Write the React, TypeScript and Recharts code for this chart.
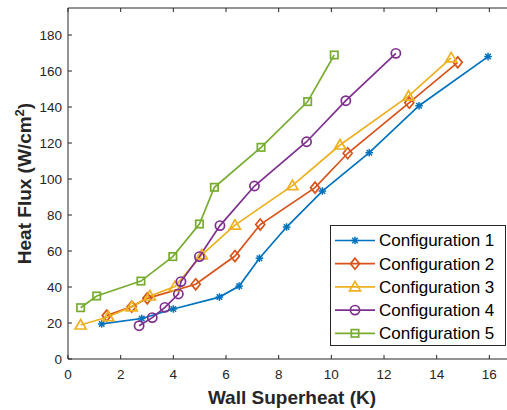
// Boiling curves: heat flux vs wall superheat for five configurations
import { LineChart, Line, XAxis, YAxis, Legend, Label } from 'recharts'

const FONT = '"Liberation Sans", Arial, Helvetica, sans-serif'
const INK = '#262626'

const xTicks = [0, 2, 4, 6, 8, 10, 12, 14, 16]
const yTicks = [0, 20, 40, 60, 80, 100, 120, 140, 160, 180]

const config1X = [1.28, 2.8, 4.0, 5.75, 6.5, 7.27, 8.3, 9.66, 11.44, 13.33, 15.95]
const config1Y = [19.5, 22.5, 27.8, 34.4, 40.5, 56, 73.3, 93.3, 114.6, 140.7, 168]

const config2X = [1.47, 2.42, 3.01, 4.85, 6.34, 7.3, 9.38, 10.62, 12.96, 14.8]
const config2Y = [24.1, 29.1, 33.7, 41.5, 57.2, 74.7, 95.2, 114.3, 142.4, 164.8]

const config3X = [0.48, 1.53, 2.42, 3.11, 4.06, 5.08, 6.34, 8.52, 10.33, 12.93, 14.55]
const config3Y = [18.9, 23.5, 29, 35, 40.2, 57.8, 74.4, 96.3, 118.9, 146, 167.3]

const config4X = [2.7, 3.2, 3.68, 4.19, 4.29, 4.99, 5.77, 7.08, 9.06, 10.55, 12.45]
const config4Y = [18.5, 23, 28.7, 36.1, 43, 56.9, 74.1, 96.1, 120.7, 143.5, 169.8]

const config5X = [0.48, 1.09, 2.77, 3.98, 4.99, 5.56, 7.33, 9.1, 10.11]
const config5Y = [28.5, 35, 43.3, 56.9, 75, 95.4, 117.6, 143, 168.9]

const seriesNames = ['Configuration 1', 'Configuration 2', 'Configuration 3', 'Configuration 4', 'Configuration 5']
const seriesColors = ['#0072BD', '#D95319', '#EDB120', '#7E2F8E', '#77AC30']
const seriesMarkers = ['asterisk', 'diamond', 'triangle', 'circle', 'square']

const seriesX = [config1X, config2X, config3X, config4X, config5X]
const seriesY = [config1Y, config2Y, config3Y, config4Y, config5Y]

const series = seriesNames.map((name, i) => ({
  name,
  color: seriesColors[i],
  marker: seriesMarkers[i],
  data: seriesX[i].map((x, j) => ({ x, y: seriesY[i][j] })),
}))

const LW = 1.7

function Marker({ cx, cy, shape, color }: { cx: number; cy: number; shape: string; color: string }) {
  const st = { fill: 'none', stroke: color, strokeWidth: LW }
  if (shape === 'asterisk') {
    const r = 3.8
    const d = r * 0.72
    return (
      <g stroke={color} strokeWidth={1.5}>
        <line x1={cx - r} y1={cy} x2={cx + r} y2={cy} />
        <line x1={cx} y1={cy - r} x2={cx} y2={cy + r} />
        <line x1={cx - d} y1={cy - d} x2={cx + d} y2={cy + d} />
        <line x1={cx - d} y1={cy + d} x2={cx + d} y2={cy - d} />
      </g>
    )
  }
  if (shape === 'diamond') {
    return <polygon {...st} points={`${cx},${cy - 5.5} ${cx + 4.5},${cy} ${cx},${cy + 5.5} ${cx - 4.5},${cy}`} />
  }
  if (shape === 'triangle') {
    return <polygon {...st} points={`${cx},${cy - 5.5} ${cx + 5.5},${cy + 4} ${cx - 5.5},${cy + 4}`} />
  }
  if (shape === 'circle') {
    return <circle {...st} cx={cx} cy={cy} r={4.6} />
  }
  return <rect {...st} x={cx - 3.7} y={cy - 3.7} width={7.4} height={7.4} />
}

function LegendBox() {
  return (
    <svg width={176} height={121} style={{ display: 'block' }}>
      <rect x={0.5} y={0.5} width={175} height={120} fill="#fff" stroke={INK} />
      {series.map((s, i) => {
        const y = 15.5 + i * 23.2
        return (
          <g key={s.name}>
            <line x1={5} x2={45} y1={y} y2={y} stroke={s.color} strokeWidth={LW} />
            <Marker cx={25} cy={y} shape={s.marker} color={s.color} />
            <text x={49} y={y} dy="0.35em" fontSize={17} fontFamily={FONT} fill="#000">
              {s.name}
            </text>
          </g>
        )
      })}
    </svg>
  )
}

const xLabel = (props: any) => {
  const vb = props.viewBox
  return (
    <text x={vb.x + vb.width / 2 + 4.5} y={vb.y + 45} textAnchor="middle" fontSize={19} fontWeight="bold" fontFamily={FONT} fill={INK}>
      Wall Superheat (K)
    </text>
  )
}

const yLabel = (props: any) => {
  const vb = props.viewBox
  const cx = vb.x + 31
  const cy = vb.y + vb.height / 2
  return (
    <text x={cx} y={cy} textAnchor="middle" fontSize={19} fontWeight="bold" fontFamily={FONT} fill={INK} transform={`rotate(-90, ${cx}, ${cy})`}>
      <tspan>Heat Flux (W/cm</tspan>
      <tspan dy={-7} fontSize={13}>2</tspan>
      <tspan dy={7}>)</tspan>
    </text>
  )
}

export default function App() {
  const tickStyle = { fontSize: 13.5, fontFamily: FONT, fill: INK }
  return (
    <div style={{ position: 'absolute', left: 0, top: 0, background: '#fff' }}>
      <LineChart width={507} height={410} margin={{ top: 0, right: 0, bottom: 0, left: 0 }}>
        <XAxis
          type="number"
          dataKey="x"
          domain={[0, 16.67]}
          ticks={xTicks}
          allowDataOverflow
          height={51}
          stroke={INK}
          tickSize={-4}
          tickMargin={14}
          tick={tickStyle}
        >
          <Label content={xLabel} />
        </XAxis>
        <XAxis
          xAxisId="top"
          orientation="top"
          type="number"
          dataKey="x"
          domain={[0, 16.67]}
          ticks={xTicks}
          allowDataOverflow
          height={8}
          stroke={INK}
          tickSize={-4}
          tick={() => <g />}
        />
        <YAxis
          type="number"
          domain={[0, 195]}
          ticks={yTicks}
          width={68}
          stroke={INK}
          tickSize={-4}
          tickMargin={10}
          tick={tickStyle}
        >
          <Label content={yLabel} />
        </YAxis>
        <Legend
          layout="vertical"
          align="center"
          verticalAlign="middle"
          content={() => <LegendBox />}
          wrapperStyle={{ position: 'absolute', left: 330, top: 225, width: 176, height: 121 }}
        />
        {series.map((s) => (
          <Line
            key={s.name}
            data={s.data}
            dataKey="y"
            name={s.name}
            stroke={s.color}
            strokeWidth={LW}
            isAnimationActive={false}
            activeDot={false}
            dot={(p: any) => <Marker key={p.index} cx={p.cx} cy={p.cy} shape={s.marker} color={s.color} />}
          />
        ))}
      </LineChart>
    </div>
  )
}
